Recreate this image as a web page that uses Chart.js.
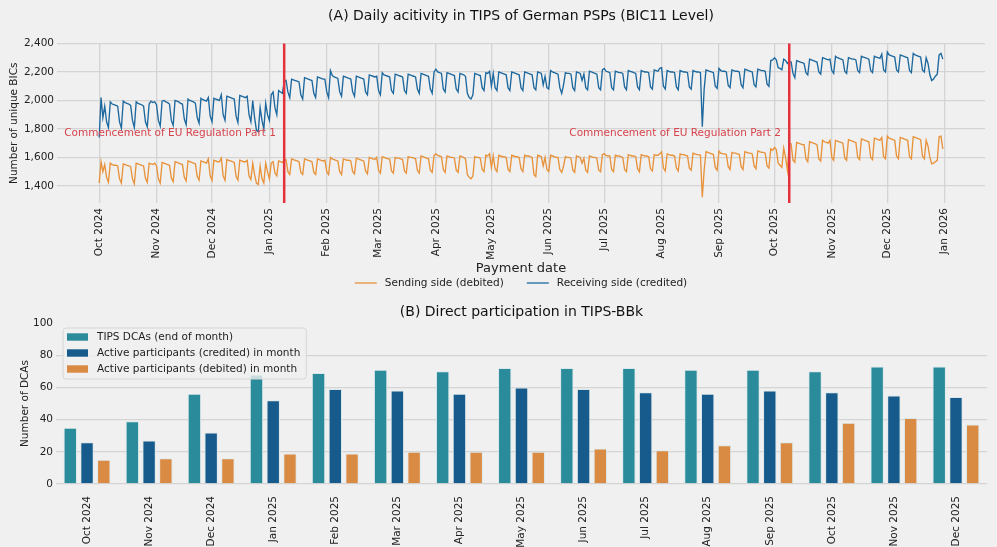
<!DOCTYPE html>
<html>
<head>
<meta charset="utf-8">
<script src="https://cdn.jsdelivr.net/npm/chart.js@4.4.1/dist/chart.umd.min.js"></script>
<style>
html, body { margin: 0; padding: 0; background: #f0f0f0; }
#wrap { position: relative; width: 997px; height: 547px; }
#top { position: absolute; left: 0; top: 0; width: 997px; height: 295px; }
#bottom { position: absolute; left: 0; top: 295px; width: 997px; height: 252px; }
</style>
</head>
<body>
<div id="wrap">
  <div id="top"><canvas id="dailyChart"></canvas></div>
  <div id="bottom"><canvas id="dcaChart"></canvas></div>
</div>
<script>
// Panel A: unique BICs per day, one array per month (day 1 = 1 Oct 2024)
const recvOct24 = [1740, 2020, 1880, 1960, 1850, 1810, 1990, 1975, 1970, 1965, 1960, 1850, 1805, 1995, 1985, 1980, 1975, 1965, 1860, 1810, 1990, 1980, 1975, 1970, 1960, 1850, 1815, 1975, 1995, 1985, 1990];
const recvNov24 = [1970, 1860, 1820, 1995, 2000, 1990, 1985, 1975, 1860, 1825, 2000, 1995, 1990, 1980, 1975, 1870, 1830, 2010, 2000, 1995, 1990, 1980, 1880, 1840, 2015, 2005, 2000, 1995, 2020, 1890];
const recvDec24 = [1850, 2015, 2010, 2005, 2000, 2040, 1900, 1860, 2030, 2025, 2020, 2015, 2010, 1890, 1845, 2035, 2030, 2025, 2020, 2030, 1900, 1850, 2000, 1880, 1790, 1780, 1950, 1860, 1800, 1980, 1900];
const recvJan25 = [1860, 2040, 2060, 1950, 1900, 2070, 2060, 2050, 2130, 2140, 2060, 2020, 2150, 2145, 2140, 2135, 2130, 2040, 2010, 2160, 2155, 2150, 2145, 2140, 2050, 2020, 2165, 2160, 2155, 2150, 2150];
const recvFeb25 = [2060, 2020, 2210, 2175, 2165, 2160, 2155, 2060, 2030, 2170, 2165, 2160, 2155, 2150, 2060, 2030, 2170, 2165, 2160, 2155, 2150, 2060, 2040, 2180, 2175, 2170, 2165, 2170];
const recvMar25 = [2070, 2040, 2195, 2180, 2175, 2170, 2165, 2070, 2050, 2185, 2180, 2175, 2170, 2165, 2070, 2050, 2185, 2180, 2175, 2170, 2165, 2080, 2050, 2190, 2185, 2180, 2175, 2170, 2080, 2050, 2200];
const recvApr25 = [2220, 2200, 2195, 2190, 2080, 2060, 2195, 2190, 2185, 2180, 2175, 2080, 2060, 2190, 2185, 2180, 2170, 2050, 2020, 2010, 2040, 2190, 2185, 2180, 2175, 2090, 2070, 2195, 2190, 2205];
const recvMay25 = [2100, 2190, 2090, 2070, 2200, 2195, 2190, 2185, 2180, 2090, 2070, 2200, 2195, 2190, 2185, 2180, 2090, 2070, 2200, 2195, 2190, 2185, 2180, 2090, 2075, 2200, 2195, 2190, 2110, 2170, 2090];
const recvJun25 = [2080, 2210, 2200, 2195, 2190, 2185, 2090, 2050, 2110, 2195, 2190, 2190, 2185, 2090, 2070, 2200, 2195, 2190, 2140, 2185, 2090, 2075, 2205, 2200, 2195, 2190, 2185, 2090, 2075, 2215];
const recvJul25 = [2225, 2205, 2200, 2195, 2090, 2075, 2205, 2200, 2195, 2195, 2190, 2095, 2075, 2210, 2205, 2200, 2195, 2190, 2095, 2075, 2210, 2205, 2200, 2200, 2195, 2095, 2080, 2215, 2210, 2205, 2225];
const recvAug25 = [2230, 2100, 2080, 2210, 2205, 2200, 2200, 2195, 2095, 2075, 2210, 2205, 2200, 2200, 2195, 2095, 2080, 2210, 2205, 2200, 2200, 2195, 1815, 2080, 2215, 2210, 2205, 2200, 2195, 2100, 2085];
const recvSep25 = [2225, 2210, 2205, 2205, 2200, 2105, 2090, 2215, 2210, 2205, 2205, 2200, 2110, 2090, 2220, 2215, 2210, 2205, 2200, 2110, 2095, 2220, 2215, 2210, 2210, 2205, 2115, 2100, 2280, 2285];
const recvOct25 = [2300, 2285, 2230, 2225, 2215, 2290, 2280, 2260, 2275, 2270, 2190, 2160, 2280, 2275, 2270, 2265, 2260, 2195, 2180, 2290, 2285, 2280, 2275, 2270, 2200, 2185, 2300, 2295, 2290, 2285, 2290];
const recvNov25 = [2210, 2190, 2310, 2300, 2295, 2290, 2285, 2205, 2190, 2300, 2295, 2290, 2290, 2285, 2210, 2195, 2310, 2305, 2300, 2295, 2290, 2210, 2195, 2310, 2305, 2300, 2295, 2325, 2215, 2200];
const recvDec25 = [2340, 2320, 2315, 2310, 2305, 2215, 2200, 2320, 2315, 2310, 2305, 2300, 2210, 2195, 2330, 2320, 2315, 2310, 2305, 2215, 2200, 2300, 2260, 2180, 2140, 2150, 2170, 2185, 2320, 2330, 2290];

const sendOct24 = [1420, 1570, 1500, 1550, 1460, 1425, 1560, 1550, 1545, 1545, 1540, 1450, 1420, 1555, 1550, 1545, 1540, 1535, 1450, 1415, 1560, 1555, 1550, 1545, 1540, 1455, 1425, 1560, 1555, 1550, 1560];
const sendNov24 = [1540, 1450, 1420, 1565, 1560, 1555, 1550, 1545, 1455, 1430, 1570, 1565, 1560, 1555, 1550, 1460, 1435, 1575, 1570, 1565, 1560, 1555, 1465, 1440, 1575, 1570, 1565, 1560, 1590, 1470];
const sendDec24 = [1440, 1580, 1575, 1570, 1570, 1595, 1470, 1440, 1585, 1580, 1575, 1570, 1565, 1465, 1440, 1580, 1575, 1570, 1570, 1580, 1470, 1445, 1560, 1480, 1420, 1410, 1540, 1450, 1420, 1560, 1500];
const sendJan25 = [1450, 1560, 1570, 1490, 1470, 1575, 1570, 1565, 1580, 1585, 1500, 1480, 1590, 1585, 1580, 1575, 1570, 1495, 1480, 1590, 1585, 1580, 1575, 1570, 1495, 1480, 1590, 1585, 1580, 1575, 1580];
const sendFeb25 = [1500, 1480, 1600, 1590, 1585, 1580, 1575, 1500, 1480, 1590, 1585, 1580, 1580, 1575, 1500, 1485, 1595, 1590, 1585, 1580, 1575, 1505, 1485, 1600, 1595, 1590, 1585, 1600];
const sendMar25 = [1510, 1490, 1605, 1600, 1595, 1590, 1590, 1505, 1490, 1600, 1595, 1595, 1590, 1585, 1505, 1490, 1605, 1600, 1600, 1595, 1590, 1510, 1490, 1610, 1605, 1600, 1595, 1590, 1510, 1495, 1615];
const sendApr25 = [1625, 1615, 1610, 1605, 1515, 1495, 1610, 1605, 1600, 1600, 1595, 1510, 1495, 1610, 1605, 1600, 1590, 1480, 1460, 1450, 1470, 1605, 1600, 1600, 1595, 1515, 1500, 1615, 1610, 1625];
const sendMay25 = [1530, 1610, 1520, 1500, 1615, 1610, 1605, 1605, 1600, 1515, 1500, 1615, 1610, 1605, 1605, 1600, 1520, 1500, 1615, 1610, 1610, 1605, 1600, 1480, 1465, 1615, 1610, 1605, 1540, 1600, 1515];
const sendJun25 = [1500, 1615, 1610, 1605, 1600, 1600, 1515, 1495, 1540, 1605, 1600, 1600, 1595, 1510, 1495, 1610, 1605, 1600, 1560, 1595, 1510, 1495, 1610, 1605, 1600, 1600, 1595, 1510, 1500, 1620];
const sendJul25 = [1625, 1615, 1610, 1610, 1515, 1500, 1615, 1610, 1610, 1605, 1600, 1515, 1500, 1620, 1615, 1610, 1610, 1605, 1520, 1500, 1620, 1615, 1610, 1610, 1605, 1520, 1505, 1620, 1615, 1615, 1625];
const sendAug25 = [1640, 1525, 1505, 1625, 1620, 1615, 1615, 1610, 1525, 1505, 1625, 1620, 1620, 1615, 1610, 1525, 1510, 1630, 1625, 1620, 1620, 1615, 1320, 1510, 1640, 1635, 1630, 1625, 1620, 1530, 1510];
const sendSep25 = [1645, 1630, 1625, 1625, 1620, 1535, 1515, 1635, 1630, 1630, 1625, 1620, 1535, 1515, 1640, 1635, 1630, 1630, 1625, 1540, 1520, 1645, 1640, 1635, 1635, 1630, 1540, 1525, 1660, 1650];
const sendOct25 = [1670, 1655, 1560, 1545, 1530, 1665, 1600, 1510, 1700, 1695, 1580, 1565, 1705, 1700, 1695, 1690, 1690, 1590, 1570, 1710, 1705, 1700, 1695, 1690, 1590, 1575, 1720, 1710, 1705, 1700, 1720];
const sendNov25 = [1600, 1580, 1720, 1715, 1710, 1705, 1700, 1595, 1580, 1725, 1720, 1715, 1710, 1705, 1600, 1585, 1730, 1725, 1720, 1715, 1710, 1600, 1585, 1735, 1730, 1725, 1720, 1740, 1605, 1590];
const sendDec25 = [1750, 1735, 1730, 1725, 1720, 1610, 1590, 1740, 1735, 1730, 1725, 1720, 1605, 1590, 1745, 1740, 1735, 1730, 1725, 1610, 1590, 1720, 1680, 1600, 1555, 1560, 1570, 1580, 1745, 1750, 1660];

const xTickLabels = ['Oct 2024', 'Nov 2024', 'Dec 2024', 'Jan 2025', 'Feb 2025', 'Mar 2025', 'Apr 2025', 'May 2025',
                     'Jun 2025', 'Jul 2025', 'Aug 2025', 'Sep 2025', 'Oct 2025', 'Nov 2025', 'Dec 2025', 'Jan 2026'];
const yTicksTop = [1400, 1600, 1800, 2000, 2200, 2400];
const regulationLabels = ['Commencement of EU Regulation Part 1', 'Commencement of EU Regulation Part 2'];
const regulationLabelY = 1770;

// Panel B: direct participation per month
const monthLabels = ['Oct 2024', 'Nov 2024', 'Dec 2024', 'Jan 2025', 'Feb 2025', 'Mar 2025', 'Apr 2025', 'May 2025',
                     'Jun 2025', 'Jul 2025', 'Aug 2025', 'Sep 2025', 'Oct 2025', 'Nov 2025', 'Dec 2025'];
const tipsDcas = [35, 39, 56, 68, 69, 71, 70, 72, 72, 72, 71, 71, 70, 73, 73];
const activeCredited = [26, 27, 32, 52, 59, 58, 56, 60, 59, 57, 56, 58, 57, 55, 54];
const activeDebited = [15, 16, 16, 19, 19, 20, 20, 20, 22, 21, 24, 26, 38, 41, 37];

// 日期 -> 距 2024-10-01 的天数
const startUTC = Date.UTC(2024, 9, 1);
function dayOf(y, m, d) {
    return Math.round((Date.UTC(y, m, d) - startUTC) / 86400000);
}

const receivingSide = [].concat(recvOct24, recvNov24, recvDec24, recvJan25, recvFeb25, recvMar25, recvApr25, recvMay25,
                                recvJun25, recvJul25, recvAug25, recvSep25, recvOct25, recvNov25, recvDec25);
const sendingSide = [].concat(sendOct24, sendNov24, sendDec24, sendJan25, sendFeb25, sendMar25, sendApr25, sendMay25,
                              sendJun25, sendJul25, sendAug25, sendSep25, sendOct25, sendNov25, sendDec25);
const monthTicks = xTickLabels.map((lab, k) => dayOf(2024, 9 + k, 1));
const regulationDays = [dayOf(2025, 0, 9), dayOf(2025, 9, 9)];
const lastDay = receivingSide.length - 1;

Chart.defaults.font.family = '"DejaVu Sans", sans-serif';
Chart.defaults.color = '#222';

const gridColor = '#d4d4d4';
const fontCss = '10.5px "DejaVu Sans"';

// 红色竖线 + 标注
const regulationLines = {
    id: 'regulationLines',
    afterDatasetsDraw(chart) {
        const {ctx, chartArea, scales} = chart;
        ctx.save();
        regulationDays.forEach((d, k) => {
            const px = scales.x.getPixelForValue(d);
            ctx.strokeStyle = '#e3323b';
            ctx.lineWidth = 2.5;
            ctx.beginPath();
            ctx.moveTo(px, chartArea.top);
            ctx.lineTo(px, chartArea.bottom);
            ctx.stroke();
            ctx.fillStyle = '#d6434c';
            ctx.font = fontCss;
            ctx.textAlign = 'right';
            ctx.textBaseline = 'middle';
            ctx.fillText(regulationLabels[k], scales.x.getPixelForValue(d - 4.5), scales.y.getPixelForValue(regulationLabelY));
        });
        ctx.restore();
    }
};

// 折线图图例（居中于绘图区下方）
const lineLegend = {
    id: 'lineLegend',
    afterDraw(chart) {
        const {ctx, chartArea} = chart;
        const items = chart.data.datasets;
        const handle = 22, gap = 8, spacing = 23;
        ctx.save();
        ctx.font = fontCss;
        const widths = items.map(ds => ctx.measureText(ds.label).width);
        const total = widths.reduce((a, w) => a + handle + gap + w, 0) + spacing * (items.length - 1);
        let cx = (chartArea.left + chartArea.right) / 2 - total / 2;
        const cy = chart.height - 12;
        items.forEach((ds, k) => {
            ctx.strokeStyle = ds.borderColor;
            ctx.lineWidth = 1.3;
            ctx.beginPath();
            ctx.moveTo(cx, cy);
            ctx.lineTo(cx + handle, cy);
            ctx.stroke();
            ctx.fillStyle = '#222';
            ctx.textAlign = 'left';
            ctx.textBaseline = 'middle';
            ctx.fillText(ds.label, cx + handle + gap, cy);
            cx += handle + gap + widths[k] + spacing;
        });
        ctx.restore();
    }
};

// 柱状图图例（半透明框，盖在柱子上）
const barLegend = {
    id: 'barLegend',
    afterDatasetsDraw(chart) {
        const {ctx, chartArea} = chart;
        const items = chart.data.datasets;
        ctx.save();
        ctx.font = fontCss;
        const maxW = Math.max(...items.map(ds => ctx.measureText(ds.label).width));
        const x0 = chartArea.left + 7, y0 = chartArea.top + 5;
        const w = 34 + maxW + 6, h = 51;
        ctx.fillStyle = 'rgba(240,240,240,0.8)';
        ctx.strokeStyle = '#d6d6d6';
        ctx.lineWidth = 1;
        ctx.beginPath();
        if (ctx.roundRect) ctx.roundRect(x0, y0, w, h, 3); else ctx.rect(x0, y0, w, h);
        ctx.fill();
        ctx.stroke();
        ctx.textAlign = 'left';
        ctx.textBaseline = 'middle';
        items.forEach((ds, k) => {
            const cy = y0 + 9 + k * 16;
            ctx.fillStyle = ds.backgroundColor;
            ctx.fillRect(x0 + 4, cy - 3.7, 21, 7.4);
            ctx.fillStyle = '#222';
            ctx.fillText(ds.label, x0 + 34, cy);
        });
        ctx.restore();
    }
};

function createDailyChart() {
    new Chart(document.getElementById('dailyChart'), {
        type: 'line',
        data: {
            datasets: [{
                label: 'Sending side (debited)',
                data: sendingSide.map((v, i) => ({x: i, y: v})),
                borderColor: '#e8923a',
                borderWidth: 1.35,
                pointRadius: 0,
                tension: 0
            }, {
                label: 'Receiving side (credited)',
                data: receivingSide.map((v, i) => ({x: i, y: v})),
                borderColor: '#1c689f',
                borderWidth: 1.35,
                pointRadius: 0,
                tension: 0
            }]
        },
        options: {
            responsive: true,
            maintainAspectRatio: false,
            animation: false,
            layout: { padding: { left: 0, right: 12, top: 0, bottom: 19 } },
            plugins: {
                legend: { display: false },
                tooltip: { enabled: false },
                title: {
                    display: true,
                    fullSize: false,
                    text: '(A) Daily acitivity in TIPS of German PSPs (BIC11 Level)',
                    color: '#111',
                    font: { size: 14, weight: 'normal' },
                    padding: { top: 8, bottom: 18.7 }
                }
            },
            scales: {
                x: {
                    type: 'linear',
                    min: -0.05 * lastDay,
                    max: lastDay * 1.05,
                    afterBuildTicks: s => { s.ticks = monthTicks.map(v => ({value: v})); },
                    afterFit: s => { s.height = 73; },
                    ticks: {
                        autoSkip: false,
                        minRotation: 90,
                        maxRotation: 90,
                        padding: 5,
                        font: { size: 10.5 },
                        callback: v => xTickLabels[monthTicks.indexOf(v)]
                    },
                    grid: { color: gridColor, lineWidth: 1.3, drawTicks: false },
                    border: { display: false },
                    title: { display: true, text: 'Payment date', font: { size: 13 }, padding: { top: 0, bottom: 0 } }
                },
                y: {
                    min: 1280,
                    max: 2400,
                    afterBuildTicks: s => { s.ticks = yTicksTop.map(v => ({value: v})); },
                    afterFit: s => { s.width = 57; },
                    ticks: {
                        padding: 3,
                        font: { size: 10.5 },
                        callback: v => v.toLocaleString('en-US')
                    },
                    grid: { color: gridColor, lineWidth: 1.3, drawTicks: false },
                    border: { display: false },
                    title: { display: true, text: 'Number of unique BICs', font: { size: 10.5 }, padding: { top: 8, bottom: 0 } }
                }
            }
        },
        plugins: [regulationLines, lineLegend]
    });
}

function createDcaChart() {
    const edge = '#dbe8eb';
    new Chart(document.getElementById('dcaChart'), {
        type: 'bar',
        data: {
            labels: monthLabels,
            datasets: [{
                label: 'TIPS DCAs (end of month)',
                data: tipsDcas,
                backgroundColor: '#2a8b9b',
                borderColor: edge,
                borderWidth: 1
            }, {
                label: 'Active participants (credited) in month',
                data: activeCredited,
                backgroundColor: '#165b8b',
                borderColor: edge,
                borderWidth: 1
            }, {
                label: 'Active participants (debited) in month',
                data: activeDebited,
                backgroundColor: '#da8b43',
                borderColor: edge,
                borderWidth: 1
            }]
        },
        options: {
            responsive: true,
            maintainAspectRatio: false,
            animation: false,
            datasets: { bar: { categoryPercentage: 0.81, barPercentage: 0.8 } },
            layout: { padding: { left: 0, right: 10, top: 0, bottom: 0 } },
            plugins: {
                legend: { display: false },
                tooltip: { enabled: false },
                title: {
                    display: true,
                    fullSize: false,
                    text: '(B) Direct participation in TIPS-BBk',
                    color: '#111',
                    font: { size: 14, weight: 'normal' },
                    padding: { top: 9, bottom: 2.2 }
                }
            },
            scales: {
                x: {
                    afterFit: s => { s.height = 63; },
                    ticks: { autoSkip: false, minRotation: 90, maxRotation: 90, padding: 4, font: { size: 10.5 } },
                    grid: { display: false },
                    border: { display: false }
                },
                y: {
                    min: 0,
                    max: 100,
                    afterFit: s => { s.width = 56; },
                    ticks: { stepSize: 20, padding: 3, font: { size: 10.5 } },
                    grid: { color: c => (c.tick && c.tick.value === 100) ? 'rgba(0,0,0,0)' : gridColor, lineWidth: 1.3, drawTicks: false },
                    border: { display: false },
                    title: { display: true, text: 'Number of DCAs', font: { size: 10.5 }, padding: { top: 18.7, bottom: 0 } }
                }
            }
        },
        plugins: [barLegend]
    });
}

createDailyChart();
createDcaChart();
</script>
</body>
</html>
